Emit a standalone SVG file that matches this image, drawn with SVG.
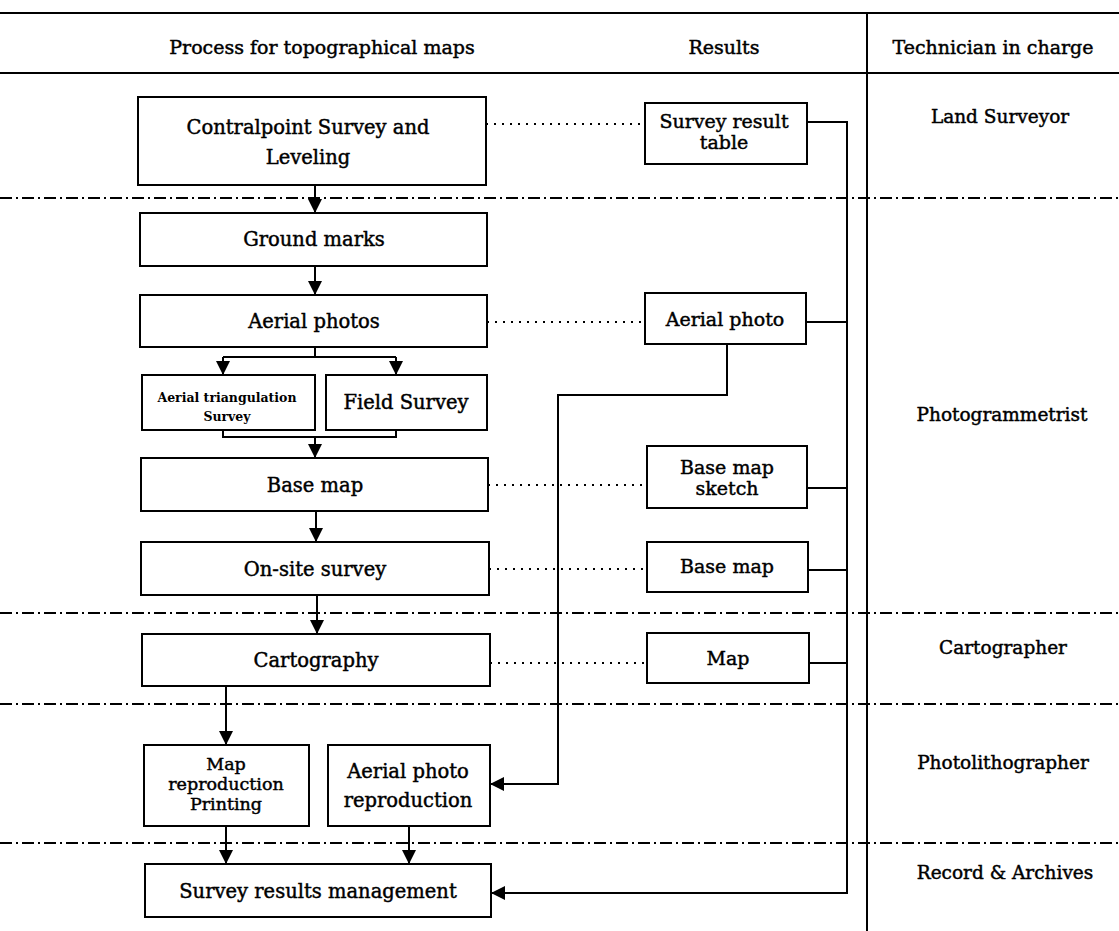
<svg xmlns="http://www.w3.org/2000/svg" width="1119" height="931" viewBox="0 0 1119 931">
<defs>
<style>
text{font-family:"DejaVu Serif","Liberation Serif",serif;fill:#000;stroke:#000;stroke-width:0.45;text-anchor:middle}
.t{font-size:19.5px}
.r{font-size:19px}
.m{font-size:17.5px}
.h{font-size:19px}
.s{font-size:18.5px}
.xs{font-size:12.5px;font-weight:bold;stroke-width:0}
.box{fill:#fff;stroke:#000;stroke-width:2}
.ln{fill:none;stroke:#000;stroke-width:2}
.dot{fill:none;stroke:#000;stroke-width:2;stroke-dasharray:2 6}
.dd{fill:none;stroke:#000;stroke-width:2;stroke-dasharray:12 4 2 4}
</style>
<marker id="ah" markerWidth="14" markerHeight="14" refX="14" refY="7" orient="auto" markerUnits="userSpaceOnUse">
<path d="M0,0 L14,7 L0,14 Z" fill="#000"/>
</marker>
</defs>
<rect width="1119" height="931" fill="#fff"/>
<g id="frame">
<line x1="0" y1="13" x2="1119" y2="13" class="ln"/>
<line x1="0" y1="73" x2="1119" y2="73" class="ln"/>
<line x1="867" y1="13" x2="867" y2="931" class="ln"/>
<line x1="0" y1="198" x2="1119" y2="198" class="dd"/>
<line x1="0" y1="613" x2="1119" y2="613" class="dd"/>
<line x1="0" y1="704" x2="1119" y2="704" class="dd"/>
<line x1="0" y1="843" x2="1119" y2="843" class="dd"/>
<text x="322" y="54" class="h">Process for topographical maps</text>
<text x="724" y="54" class="h">Results</text>
<text x="993" y="54" class="h">Technician in charge</text>
<text x="1000" y="123" class="s">Land Surveyor</text>
<text x="1002" y="421" class="s">Photogrammetrist</text>
<text x="1003" y="654" class="s">Cartographer</text>
<text x="1003" y="769" class="s">Photolithographer</text>
<text x="1005" y="879" class="s">Record &amp; Archives</text>
</g>
<g id="connectors">
<line x1="315" y1="185" x2="315" y2="213" class="ln" marker-end="url(#ah)"/>
<line x1="315" y1="266" x2="315" y2="295" class="ln" marker-end="url(#ah)"/>
<polyline points="315,347 315,357" class="ln"/>
<line x1="223" y1="357" x2="396" y2="357" class="ln"/>
<line x1="223" y1="357" x2="223" y2="375" class="ln" marker-end="url(#ah)"/>
<line x1="396" y1="357" x2="396" y2="375" class="ln" marker-end="url(#ah)"/>
<polyline points="223,430 223,437 396,437 396,430" class="ln"/>
<line x1="315" y1="437" x2="315" y2="458" class="ln" marker-end="url(#ah)"/>
<line x1="316" y1="511" x2="316" y2="542" class="ln" marker-end="url(#ah)"/>
<line x1="317" y1="595" x2="317" y2="634" class="ln" marker-end="url(#ah)"/>
<line x1="226" y1="686" x2="226" y2="745" class="ln" marker-end="url(#ah)"/>
<line x1="226" y1="826" x2="226" y2="864" class="ln" marker-end="url(#ah)"/>
<line x1="409" y1="826" x2="409" y2="864" class="ln" marker-end="url(#ah)"/>
<line x1="486" y1="124" x2="645" y2="124" class="dot"/>
<line x1="487" y1="322" x2="645" y2="322" class="dot"/>
<line x1="488" y1="485" x2="647" y2="485" class="dot"/>
<line x1="489" y1="569" x2="647" y2="569" class="dot"/>
<line x1="490" y1="663" x2="647" y2="663" class="dot"/>
<polyline points="807,122 847,122 847,893 491,893" class="ln" marker-end="url(#ah)"/>
<line x1="806" y1="322" x2="847" y2="322" class="ln"/>
<line x1="807" y1="488" x2="847" y2="488" class="ln"/>
<line x1="808" y1="570" x2="847" y2="570" class="ln"/>
<line x1="809" y1="663" x2="847" y2="663" class="ln"/>
<polyline points="727,344 727,395 558,395 558,784 490,784" class="ln" marker-end="url(#ah)"/>
</g>
<g id="n1"><rect x="138" y="97" width="348" height="88" class="box"/><text x="308" y="134" class="t">Contralpoint Survey and</text><text x="308" y="164" class="t">Leveling</text></g>
<g id="n2"><rect x="140" y="213" width="347" height="53" class="box"/><text x="314" y="246" class="t">Ground marks</text></g>
<g id="n3"><rect x="140" y="295" width="347" height="52" class="box"/><text x="314" y="328" class="t">Aerial photos</text></g>
<g id="n4"><rect x="142" y="375" width="173" height="55" class="box"/><text x="227" y="402" class="xs">Aerial triangulation</text><text x="227" y="421" class="xs">Survey</text></g>
<g id="n5"><rect x="326" y="375" width="161" height="55" class="box"/><text x="406" y="409" class="t">Field Survey</text></g>
<g id="n6"><rect x="141" y="458" width="347" height="53" class="box"/><text x="315" y="492" class="t">Base map</text></g>
<g id="n7"><rect x="141" y="542" width="348" height="53" class="box"/><text x="315" y="576" class="t">On-site survey</text></g>
<g id="n8"><rect x="142" y="634" width="348" height="52" class="box"/><text x="316" y="667" class="t">Cartography</text></g>
<g id="n9"><rect x="144" y="745" width="165" height="81" class="box"/><text x="226" y="770" class="m">Map</text><text x="226" y="790" class="m">reproduction</text><text x="226" y="810" class="m">Printing</text></g>
<g id="n10"><rect x="328" y="745" width="162" height="81" class="box"/><text x="408" y="778" class="t">Aerial photo</text><text x="408" y="807" class="t">reproduction</text></g>
<g id="n11"><rect x="145" y="864" width="346" height="53" class="box"/><text x="318" y="898" class="t">Survey results management</text></g>
<g id="r1"><rect x="645" y="103" width="162" height="61" class="box"/><text x="724" y="128" class="r">Survey result</text><text x="724" y="149" class="r">table</text></g>
<g id="r2"><rect x="645" y="293" width="161" height="51" class="box"/><text x="725" y="326" class="r">Aerial photo</text></g>
<g id="r3"><rect x="647" y="446" width="160" height="62" class="box"/><text x="727" y="474" class="r">Base map</text><text x="727" y="495" class="r">sketch</text></g>
<g id="r4"><rect x="647" y="542" width="161" height="50" class="box"/><text x="727" y="573" class="r">Base map</text></g>
<g id="r5"><rect x="647" y="633" width="162" height="50" class="box"/><text x="728" y="665" class="r">Map</text></g>
</svg>
